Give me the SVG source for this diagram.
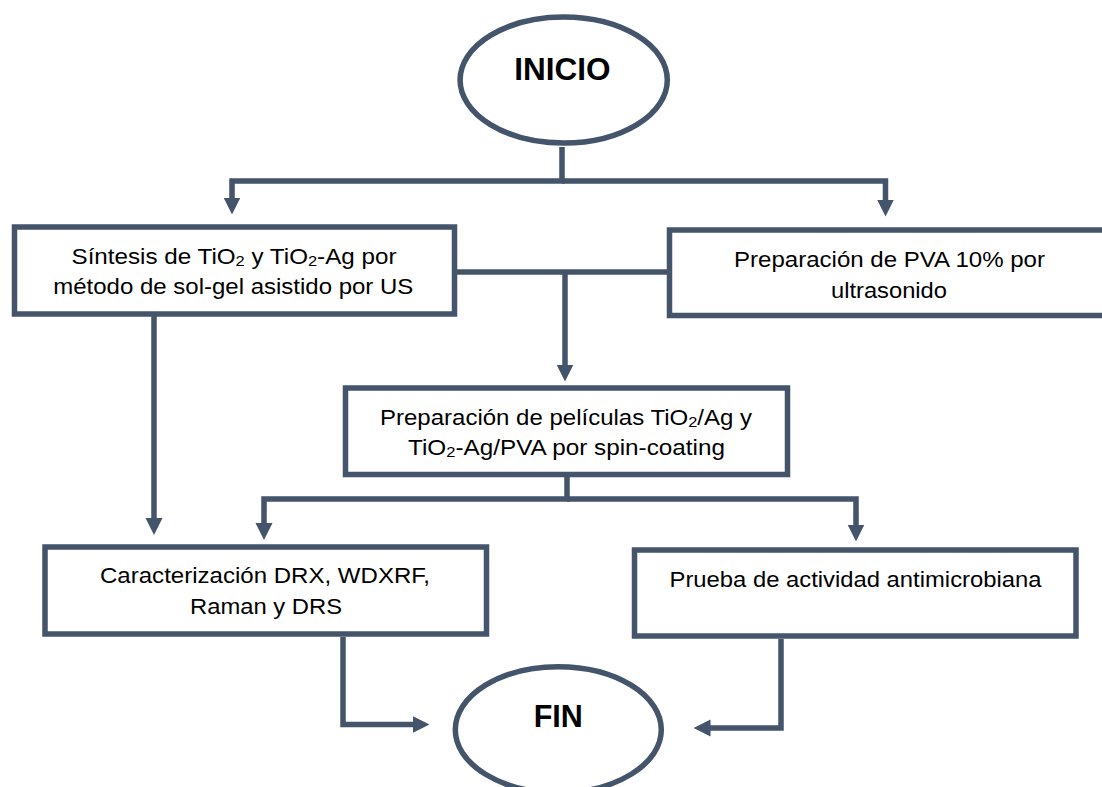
<svg xmlns="http://www.w3.org/2000/svg" width="1102" height="787" viewBox="0 0 1102 787">
<style>
.box{fill:#ffffff;stroke:#44546a;stroke-width:5.5}
.term{fill:#ffffff;stroke:#44546a;stroke-width:5.5}
.con{fill:none;stroke:#44546a;stroke-width:5.5;stroke-linejoin:miter}
.t{font-family:"Liberation Sans",Arial,sans-serif;font-size:22px;fill:#000000;text-anchor:middle}
.tb{font-family:"Liberation Sans",Arial,sans-serif;font-weight:bold;fill:#000000;text-anchor:middle}
.sub{font-size:15px}
</style>
<defs>
<marker id="ah" viewBox="0 -9 17 18" markerWidth="17" markerHeight="18" refX="1" refY="0" markerUnits="userSpaceOnUse" orient="auto">
<path d="M0,-8.5 L17,0 L0,8.5 Z" fill="#44546a"/>
</marker>
</defs>
<rect width="1102" height="787" fill="#ffffff"/>
<g id="connectors">
<path class="con" d="M562,147 V181 H232 V198.5" marker-end="url(#ah)"/>
<path class="con" d="M562,181 H885.5 V200.5" marker-end="url(#ah)"/>
<path class="con" d="M457,272 H667"/>
<path class="con" d="M565,272 V365.5" marker-end="url(#ah)"/>
<path class="con" d="M567,477 V499 H264 V524" marker-end="url(#ah)"/>
<path class="con" d="M567,499 H856 V525.5" marker-end="url(#ah)"/>
<path class="con" d="M154,316 V519" marker-end="url(#ah)"/>
<path class="con" d="M343,637 V724.5 H413.5" marker-end="url(#ah)"/>
<path class="con" d="M781,639 V728 H709.5" marker-end="url(#ah)"/>
</g>
<g id="inicio">
<ellipse class="term" cx="563.7" cy="80" rx="103.6" ry="63"/>
<text class="tb" x="562.5" y="79.5" font-size="31.5">INICIO</text>
</g>
<g id="sintesis">
<rect class="box" x="14.5" y="227" width="440" height="87"/>
<text class="t" x="234" y="263.5" textLength="325" lengthAdjust="spacingAndGlyphs">Síntesis de TiO<tspan class="sub" dy="2">2</tspan><tspan dy="-2"> y TiO</tspan><tspan class="sub" dy="2">2</tspan><tspan dy="-2">-Ag por</tspan></text>
<text class="t" x="233.3" y="294" textLength="360" lengthAdjust="spacingAndGlyphs">método de sol-gel asistido por US</text>
</g>
<g id="pva">
<rect class="box" x="669.5" y="230" width="440" height="85.5"/>
<text class="t" x="889.5" y="267" textLength="311" lengthAdjust="spacingAndGlyphs">Preparación de PVA 10% por</text>
<text class="t" x="889" y="298" textLength="116" lengthAdjust="spacingAndGlyphs">ultrasonido</text>
</g>
<g id="peliculas">
<rect class="box" x="345.5" y="388" width="442" height="86.5"/>
<text class="t" x="566" y="425" textLength="372" lengthAdjust="spacingAndGlyphs">Preparación de películas TiO<tspan class="sub" dy="2">2</tspan><tspan dy="-2">/Ag y</tspan></text>
<text class="t" x="566.5" y="455" textLength="317" lengthAdjust="spacingAndGlyphs">TiO<tspan class="sub" dy="2">2</tspan><tspan dy="-2">-Ag/PVA por spin-coating</tspan></text>
</g>
<g id="caracterizacion">
<rect class="box" x="45" y="547" width="441.5" height="87"/>
<text class="t" x="265" y="583" textLength="330" lengthAdjust="spacingAndGlyphs">Caracterización DRX, WDXRF,</text>
<text class="t" x="266" y="613.5" textLength="152" lengthAdjust="spacingAndGlyphs">Raman y DRS</text>
</g>
<g id="prueba">
<rect class="box" x="634.5" y="550" width="441.5" height="86"/>
<text class="t" x="855.5" y="586.5" textLength="372" lengthAdjust="spacingAndGlyphs">Prueba de actividad antimicrobiana</text>
</g>
<g id="fin">
<ellipse class="term" cx="558.3" cy="729.7" rx="103" ry="63"/>
<text class="tb" x="558.3" y="727" font-size="30.5">FIN</text>
</g>
</svg>
